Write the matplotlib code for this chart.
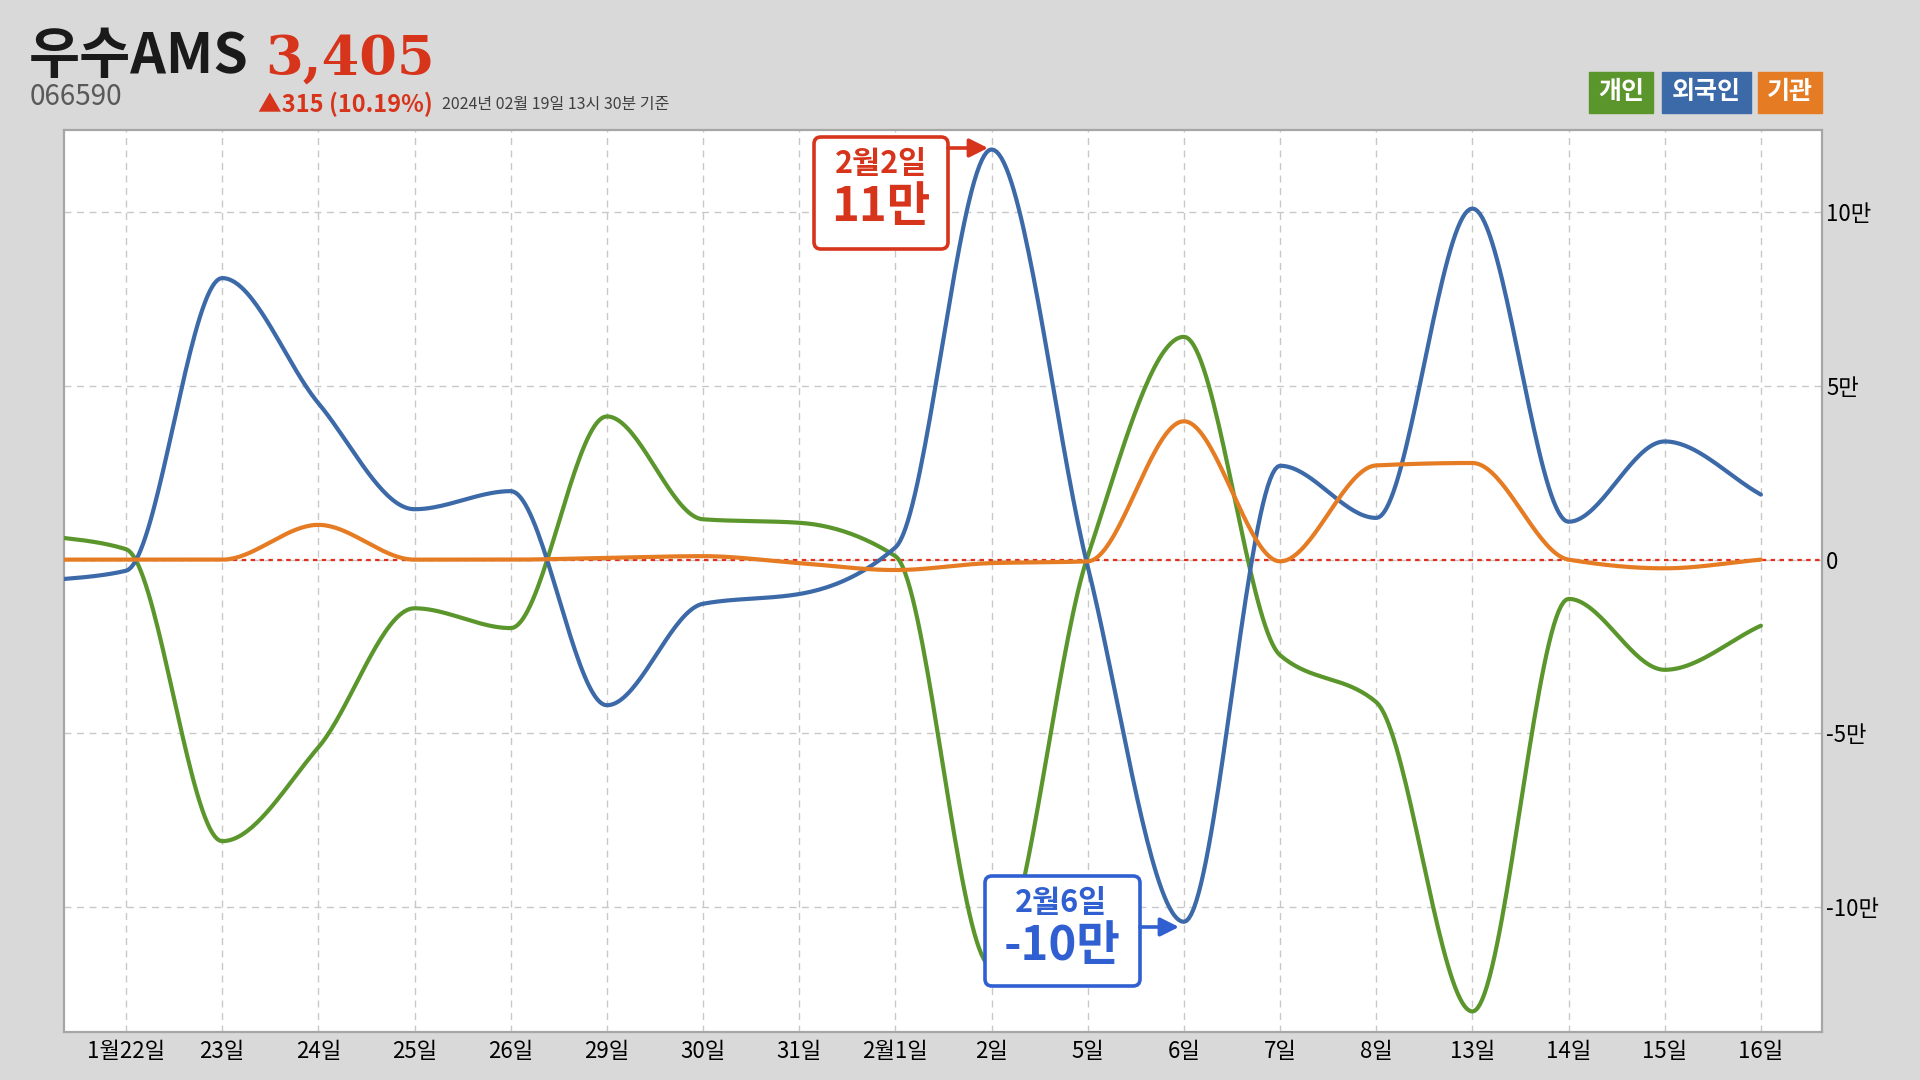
import numpy as np
import matplotlib
matplotlib.use('Agg')
import matplotlib.pyplot as plt
from matplotlib.patches import Rectangle, FancyBboxPatch

plt.rcParams['font.family'] = ['Noto Sans CJK KR', 'DejaVu Sans']

# trading days (first one is the day before the visible window, it only feeds the curve)
days = ['1월19일', '1월22일', '23일', '24일', '25일', '26일', '29일', '30일', '31일',
        '2월1일', '2일', '5일', '6일', '7일', '8일', '13일', '14일', '15일', '16일']
# net buying, unit: 만 shares
individual = [0.75, 0.3, -8.1, -5.4, -1.4, -1.97, 4.12, 1.16, 1.06,
              0.1, -11.7, 0.1, 6.41, -2.75, -4.1, -13.0, -1.13, -3.17, -1.9]
foreign = [-0.65, -0.32, 8.1, 4.5, 1.45, 1.97, -4.19, -1.27, -0.99,
           0.35, 11.8, -0.2, -10.42, 2.7, 1.2, 10.1, 1.09, 3.4, 1.87]
institution = [0.0, 0.0, 0.0, 1.0, 0.0, 0.0, 0.05, 0.1, -0.1,
               -0.3, -0.1, -0.05, 3.98, -0.05, 2.71, 2.78, 0.0, -0.25, 0.0]
yticks = [-10, -5, 0, 5, 10]
ytick_labels = ['-10만', '-5만', '0', '5만', '10만']

GREEN = '#5b962c'
BLUE = '#3c69a8'
ORANGE = '#e57c23'
RED = '#d7341c'
ANN_BLUE = '#2f5fd0'


def smooth(x, y, n=40):
    # monotone cubic (pchip) through the points, keeps plateaus flat
    x = np.asarray(x, float)
    y = np.asarray(y, float)
    h = np.diff(x)
    d = np.diff(y) / h
    m = np.zeros_like(y)
    for k in range(1, len(y) - 1):
        if d[k - 1] * d[k] > 0:
            w1 = 2 * h[k] + h[k - 1]
            w2 = h[k] + 2 * h[k - 1]
            m[k] = (w1 + w2) / (w1 / d[k - 1] + w2 / d[k])
    m[0] = d[0]
    m[-1] = d[-1]
    xs, ys = [], []
    t = np.linspace(0, 1, n)
    for i in range(len(y) - 1):
        h00 = 2 * t ** 3 - 3 * t ** 2 + 1
        h10 = t ** 3 - 2 * t ** 2 + t
        h01 = -2 * t ** 3 + 3 * t ** 2
        h11 = t ** 3 - t ** 2
        xs.append(x[i] + t * h[i])
        ys.append(h00 * y[i] + h10 * h[i] * m[i] + h01 * y[i + 1] + h11 * h[i] * m[i + 1])
    return np.concatenate(xs), np.concatenate(ys)


fig = plt.figure(figsize=(19.2, 10.8), dpi=100, facecolor='#d9d9d9')
ax = fig.add_axes([64 / 1920, 1 - 1032 / 1080, (1822 - 64) / 1920, (1032 - 130) / 1080])
ax.set_facecolor('white')

x = np.arange(len(days)) - 1
for vals, col in [(individual, GREEN), (foreign, BLUE), (institution, ORANGE)]:
    sx, sy = smooth(x, vals)
    ax.plot(sx, sy, color=col, lw=3, solid_capstyle='round', zorder=3)

ax.axhline(0, color='#e0301e', lw=1.6, linestyle=(0, (2, 2)), zorder=2)

ax.set_xlim(-0.645, 17.635)
ax.set_ylim(-13.59, 12.36)
ax.set_xticks(x[1:])
ax.set_xticklabels(days[1:], fontsize=16)
ax.set_yticks(yticks)
ax.set_yticklabels(ytick_labels, fontsize=16)
ax.yaxis.tick_right()
ax.tick_params(axis='x', length=0, pad=6)
ax.tick_params(axis='y', length=0, pad=3)
ax.grid(True, color='#c8c8c8', lw=1, linestyle=(0, (5, 4)), zorder=0)
for s in ax.spines.values():
    s.set_color('#a6a6a6')
    s.set_linewidth(1.6)

# overlay in pixel coordinates for the header and the callouts
ov = fig.add_axes([0, 0, 1, 1], zorder=10)
ov.set_xlim(0, 1920)
ov.set_ylim(1080, 0)
ov.axis('off')

ov.text(29, 57, '우수AMS', fontsize=40, fontweight='heavy', color='#1a1a1a', va='center', ha='left')
ov.text(265, 60, '3,405', fontsize=39, fontweight='bold', color=RED, va='center', ha='left',
        family='DejaVu Serif')
ov.text(30, 97, '066590', fontsize=20, color='#595959', va='center', ha='left')
ov.text(258, 104, '▲315 (10.19%)', fontsize=17, fontweight='bold', color=RED, va='center', ha='left')
ov.text(442, 105, '2024년 02월 19일 13시 30분 기준', fontsize=11.5, color='#404040', va='center', ha='left')

legend = [('개인', GREEN, 1589, 64), ('외국인', BLUE, 1662, 89), ('기관', ORANGE, 1758, 64)]
for name, col, lx, w in legend:
    ov.add_patch(Rectangle((lx, 72), w, 41, color=col))
    ov.text(lx + w / 2, 92, name, fontsize=18, fontweight='bold', color='white', ha='center', va='center')

# callout: max foreign buying
ov.add_patch(FancyBboxPatch((814, 137), 134, 112, boxstyle='round,pad=0,rounding_size=7',
                            fc='white', ec=RED, lw=2.6))
ov.text(881, 164, '2월2일', fontsize=22, fontweight='heavy', color=RED, ha='center', va='center')
ov.text(881, 207, '11만', fontsize=34, fontweight='heavy', color=RED, ha='center', va='center')
ov.annotate('', xy=(988, 148), xytext=(948, 148),
            arrowprops=dict(arrowstyle='-|>', color=RED, lw=2.6, mutation_scale=28, shrinkA=0, shrinkB=0))

# callout: max foreign selling
ov.add_patch(FancyBboxPatch((985, 876), 155, 110, boxstyle='round,pad=0,rounding_size=7',
                            fc='white', ec=ANN_BLUE, lw=2.6))
ov.text(1061, 903, '2월6일', fontsize=22, fontweight='heavy', color=ANN_BLUE, ha='center', va='center')
ov.text(1062, 946, '-10만', fontsize=34, fontweight='heavy', color=ANN_BLUE, ha='center', va='center')
ov.annotate('', xy=(1179, 927), xytext=(1140, 927),
            arrowprops=dict(arrowstyle='-|>', color=ANN_BLUE, lw=2.6, mutation_scale=28, shrinkA=0, shrinkB=0))

fig.savefig('out.png', dpi=100, facecolor=fig.get_facecolor())
